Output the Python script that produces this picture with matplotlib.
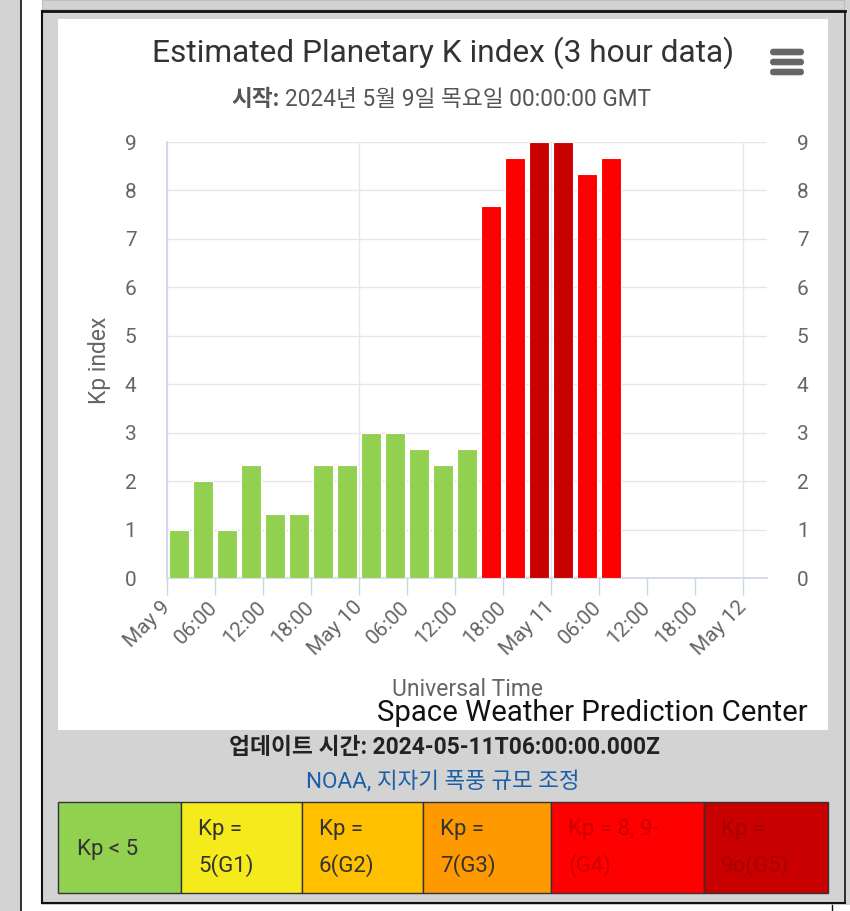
import matplotlib
matplotlib.use("Agg")
import matplotlib.pyplot as plt
from matplotlib.patches import Rectangle, FancyBboxPatch

# ---- data ----
kp_values = [1.00, 2.00, 1.00, 2.33, 1.33, 1.33, 2.33, 2.33, 3.00, 3.00,
             2.67, 2.33, 2.67, 7.67, 8.67, 9.00, 9.00, 8.33, 8.67]
bin_hours = 3
tick_hours = [0, 6, 12, 18, 24, 30, 36, 42, 48, 54, 60, 66, 72]
tick_labels = ["May 9", "06:00", "12:00", "18:00", "May 10", "06:00", "12:00",
               "18:00", "May 11", "06:00", "12:00", "18:00", "May 12"]
y_ticks = list(range(0, 10))
legend_labels = ["Kp < 5", "Kp =\n5(G1)", "Kp =\n6(G2)", "Kp =\n7(G3)",
                 "Kp = 8, 9-\n(G4)", "Kp =\n9o(G5)"]
legend_colors = ["#92d050", "#f5eb1c", "#ffc000", "#ff9900", "#ff0000", "#c80000"]
legend_text_colors = ["#333333", "#333333", "#333333", "#333333", "#cc0000", "#a80000"]

title = "Estimated Planetary K index (3 hour data)"
subtitle_bold = "시작:"
subtitle_rest = "2024년 5월 9일 목요일 00:00:00 GMT"
update_text = "업데이트 시간: 2024-05-11T06:00:00.000Z"
noaa_text = "NOAA, 지자기 폭풍 규모 조정"


def kp_color(v):
    if v >= 9.0:
        return "#c80000"
    if v >= 7.67:
        return "#ff0000"
    if v >= 6.67:
        return "#ff9900"
    if v >= 5.67:
        return "#ffc000"
    if v >= 4.67:
        return "#f5eb1c"
    return "#92d050"


FONT = ["Roboto", "Noto Sans CJK KR", "DejaVu Sans"]
plt.rcParams["font.family"] = FONT

W, H = 850, 911
fig = plt.figure(figsize=(W / 100, H / 100), dpi=100)
fig.patch.set_facecolor("#d3d3d3")


def fx(x):
    return x / W


def fy(y):
    return 1 - y / H


def frect(x0, y0, x1, y1, **kw):
    r = Rectangle((fx(x0), fy(y1)), fx(x1) - fx(x0), fy(y0) - fy(y1),
                  transform=fig.transFigure, **kw)
    fig.add_artist(r)
    return r


def fline(xs, ys, **kw):
    fig.add_artist(plt.Line2D([fx(x) for x in xs], [fy(y) for y in ys],
                              transform=fig.transFigure, **kw))


# page frame
frect(21, 0, 42, 911, facecolor="white", edgecolor="none")
frect(42, 0, 844, 9, facecolor="#d3d3d3", edgecolor="#bdbdbd", lw=0.8)
frect(42, 905, 850, 911, facecolor="white", edgecolor="none")
fline([20.5, 20.5], [0, 911], color="#111111", lw=1.2)
fline([42, 42], [11, 903], color="#111111", lw=1.5)
fline([42, 845], [11, 11], color="#111111", lw=2)
fline([844.5, 844.5], [11, 903], color="#111111", lw=1.2)
fline([42, 845], [903, 903], color="#111111", lw=1.5)
fline([832, 832], [905, 911], color="#111111", lw=1)

# white chart box
frect(58, 19, 828, 730, facecolor="white", edgecolor="none")

# ---- axes ----
ax = fig.add_axes([fx(167), fy(578), fx(767) - fx(167), fy(142) - fy(578)])
ax.set_zorder(5)
ax.set_facecolor("white")
x_centers = [bin_hours * i + bin_hours / 2 for i in range(len(kp_values))]
ax.bar(x_centers, kp_values, width=2.55, color=[kp_color(v) for v in kp_values],
       edgecolor="white", linewidth=0.8, zorder=3)
ax.set_xlim(0, 75)
ax.set_ylim(0, 9)
ax.set_yticks(y_ticks)
ax.set_xticks(tick_hours)
ax.set_xticklabels(tick_labels, rotation=45, ha="right", va="center",
                   rotation_mode="anchor")
ax.tick_params(axis="x", length=12, width=1, color="#ccd6eb", labelsize=15,
               labelcolor="#666666", pad=7)
ax.tick_params(axis="y", length=0, labelsize=15, labelcolor="#666666", pad=22)
ax.yaxis.grid(True, color="#e6e6e6", lw=1, zorder=0)
for d in [0, 24, 48, 72]:
    ax.axvline(d, color="#e6e6e6", lw=1, zorder=0)
for s in ["top", "right"]:
    ax.spines[s].set_visible(False)
ax.spines["left"].set_color("#ccd6eb")
ax.spines["bottom"].set_color("#ccd6eb")
ax.spines["left"].set_linewidth(1.2)
ax.spines["bottom"].set_linewidth(1.2)
ax.spines["left"].set_zorder(4)
ax.set_ylabel("Kp index", fontsize=16.5, color="#666666", labelpad=10)

ax2 = ax.twinx()
ax2.set_zorder(6)
ax2.patch.set_visible(False)
ax2.set_ylim(0, 9)
ax2.set_yticks(y_ticks)
ax2.tick_params(axis="y", length=0, labelsize=15, labelcolor="#666666", pad=21.5)
for s in ["top", "right", "left", "bottom"]:
    ax2.spines[s].set_visible(False)

# ---- texts ----
fig.text(fx(443), fy(53), title, fontsize=22.8, color="#333333", ha="center", va="center")
sub_bold = fig.text(fx(231), fy(100), subtitle_bold, fontsize=16.3, color="#555555",
                    ha="left", va="center", fontweight="bold")
fig.canvas.draw()
bb = sub_bold.get_window_extent()
fig.text((bb.x1 + 6) / W, fy(100), subtitle_rest,
         fontsize=16.3, color="#555555", ha="left", va="center")

# menu icon
for yy in [52, 62, 72]:
    fig.add_artist(FancyBboxPatch((fx(770), fy(yy + 3.3)), fx(804) - fx(770),
                                  6.6 / H, boxstyle="round,pad=0,rounding_size=0.004",
                                  transform=fig.transFigure, facecolor="#666666",
                                  edgecolor="none"))

fig.text(fx(467), fy(696), "Universal Time", fontsize=16.5, color="#666666",
         ha="center", va="baseline")
fig.text(fx(808), fy(721), "Space Weather Prediction Center", fontsize=21.2,
         color="#111111", ha="right", va="baseline")

fig.text(fx(444), fy(748), update_text, fontsize=16.4, color="#222222",
         ha="center", va="center", fontweight="bold")
fig.text(fx(443), fy(782), noaa_text, fontsize=16.2, color="#1a5fa8",
         ha="center", va="center")

# legend table
bounds = [58, 181, 302, 423, 551, 704, 828]
for i, (lab, col, tc) in enumerate(zip(legend_labels, legend_colors, legend_text_colors)):
    x0, x1 = bounds[i], bounds[i + 1]
    frect(x0, 802, x1, 893, facecolor=col, edgecolor="#333333", lw=1)
    if "\n" in lab:
        l1, l2 = lab.split("\n")
        fig.text(fx(x0 + 17), fy(830), l1, fontsize=16, color=tc, ha="left", va="center")
        fig.text(fx(x0 + 17), fy(866), l2, fontsize=16, color=tc, ha="left", va="center")
    else:
        fig.text(fx(x0 + 19), fy(849), lab, fontsize=16, color=tc, ha="left", va="center")

fig.savefig("out.png", dpi=100, facecolor=fig.get_facecolor())
